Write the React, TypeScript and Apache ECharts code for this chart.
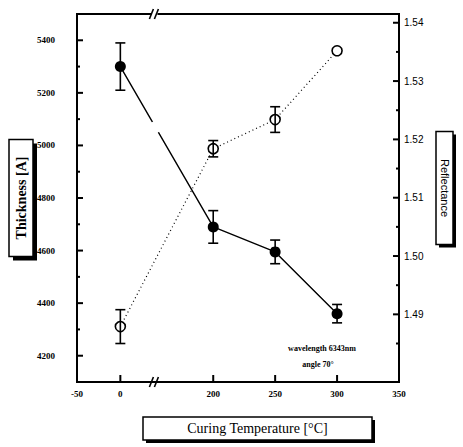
import React, { useEffect, useRef } from 'react';
import * as echarts from 'echarts';

// ---- data ----
const temperatures = [0, 200, 250, 300];
const thickness = [5300, 4690, 4595, 4360];
const thicknessErr = [90, 62, 45, 35];
const reflectance = [1.4879, 1.5184, 1.5234, 1.5352];
const reflectanceErr = [0.0029, 0.0014, 0.0022, 0];
const xTickTemps = [-50, 0, 200, 250, 300, 350];
const xTickMarks = [0, 200, 250, 300];
const thicknessLabels = [4200, 4400, 4600, 4800, 5000, 5200, 5400];
const thicknessTicks = [4200, 4300, 4400, 4500, 4600, 4700, 4800, 4900, 5000, 5100, 5200, 5300, 5400];
const reflectanceLabels = [1.49, 1.5, 1.51, 1.52, 1.53, 1.54];
const reflectanceTicks = [1.485, 1.49, 1.495, 1.5, 1.505, 1.51, 1.515, 1.52, 1.525, 1.53, 1.535, 1.54];

// broken temperature axis: temperature -> display units
const anchorTemps = [-50, 0, 200, 350];
const anchorDisp = [-35, 0, 75, 225];
const breakDispValue = 27.5;

function interp(v: number, from: number[], to: number[]) {
  for (let i = 0; i < from.length - 1; i++) {
    if (v <= from[i + 1] || i === from.length - 2) {
      const f = (v - from[i]) / (from[i + 1] - from[i]);
      return to[i] + f * (to[i + 1] - to[i]);
    }
  }
  return v;
}
const toDisp = (t: number) => interp(t, anchorTemps, anchorDisp);
const fromDisp = (d: number) => Math.round(interp(d, anchorDisp, anchorTemps));

const GRID = { left: 77, top: 14, width: 322, height: 368 };
const serif = '"Liberation Serif", "DejaVu Serif", serif';
const sans = '"Liberation Sans", Arial, sans-serif';

function errorBars(xs: number[], ys: number[], es: number[], yAxisIndex: number) {
  return {
    type: 'custom',
    xAxisIndex: 0,
    yAxisIndex,
    z: 5,
    silent: true,
    data: xs.map((t, i) => [toDisp(t), ys[i], es[i]]),
    renderItem: (_p: any, api: any) => {
      const x = api.value(0);
      const y = api.value(1);
      const e = api.value(2);
      if (!e) return { type: 'group', children: [] };
      const hi = api.coord([x, y + e]);
      const lo = api.coord([x, y - e]);
      const w = 5;
      const style = { stroke: '#000', lineWidth: 1.6 };
      return {
        type: 'group',
        children: [
          { type: 'line', shape: { x1: hi[0], y1: hi[1], x2: lo[0], y2: lo[1] }, style },
          { type: 'line', shape: { x1: hi[0] - w, y1: hi[1], x2: hi[0] + w, y2: hi[1] }, style },
          { type: 'line', shape: { x1: lo[0] - w, y1: lo[1], x2: lo[0] + w, y2: lo[1] }, style },
        ],
      };
    },
  };
}

function boxedLabel(cx: number, cy: number, w: number, h: number, sh: number, text: string, font: any, rotation: number) {
  return {
    type: 'group',
    children: [
      { type: 'rect', shape: { x: cx - w / 2 + sh, y: cy - h / 2 + sh, width: w, height: h }, style: { fill: '#000' } },
      { type: 'rect', shape: { x: cx - w / 2, y: cy - h / 2, width: w, height: h }, style: { fill: '#fff', stroke: '#000', lineWidth: 1.5 } },
      {
        type: 'text',
        x: cx,
        y: cy,
        rotation,
        style: { text, align: 'center', verticalAlign: 'middle', fill: '#000', ...font },
      },
    ],
  };
}

export default function App() {
  const ref = useRef<HTMLDivElement>(null);
  useEffect(() => {
    const chart = echarts.init(ref.current!, null, { renderer: 'svg' });
    const axisLine = { show: true, onZero: false, lineStyle: { color: '#000', width: 2 } };
    chart.setOption({
      animation: false,
      backgroundColor: '#fff',
      grid: { ...GRID, show: true, borderColor: '#000', borderWidth: 2, backgroundColor: 'transparent' },
      xAxis: {
        type: 'value',
        min: anchorDisp[0],
        max: anchorDisp[anchorDisp.length - 1],
        axisLine,
        splitLine: { show: false },
        axisTick: { show: false },
        axisLabel: {
          show: true,
          customValues: xTickTemps.map(toDisp),
          formatter: (v: number) => String(fromDisp(v)),
          color: '#000',
          fontFamily: serif,
          fontWeight: 'bold',
          fontSize: 9,
          margin: 7,
        },
      },
      yAxis: [
        {
          type: 'value',
          min: 4100,
          max: 5500,
          position: 'left',
          axisLine,
          splitLine: { show: false },
          axisTick: { show: false },
          axisLabel: {
            show: true,
            customValues: thicknessLabels,
            formatter: (v: number) => String(v),
            color: '#000',
            fontFamily: serif,
            fontWeight: 'bold',
            fontSize: 9,
            margin: 22,
          },
        },
        {
          type: 'value',
          min: 1.4784,
          max: 1.5415,
          position: 'right',
          axisLine,
          splitLine: { show: false },
          axisTick: { show: false },
          axisLabel: {
            show: true,
            customValues: reflectanceLabels,
            formatter: (v: number) => v.toFixed(2),
            color: '#000',
            fontFamily: sans,
            fontSize: 10,
            margin: 5,
          },
        },
      ],
      series: [
        {
          type: 'line',
          name: 'Thickness',
          yAxisIndex: 0,
          data: temperatures.map((t, i) => [toDisp(t), thickness[i]]),
          lineStyle: { color: '#000', width: 1.4, type: 'solid' },
          symbol: 'circle',
          symbolSize: 11,
          itemStyle: { color: '#000' },
          z: 3,
        },
        {
          type: 'line',
          name: 'Reflectance',
          yAxisIndex: 1,
          data: temperatures.map((t, i) => [toDisp(t), reflectance[i]]),
          lineStyle: { color: '#000', width: 1.2, type: [1, 3] },
          symbol: 'circle',
          symbolSize: 10,
          itemStyle: { color: '#fff', borderColor: '#000', borderWidth: 1.6 },
          z: 3,
        },
        errorBars(temperatures, thickness, thicknessErr, 0),
        errorBars(temperatures, reflectance, reflectanceErr, 1),
      ],
    });

    const left = GRID.left;
    const right = GRID.left + GRID.width;
    const top = GRID.top;
    const bottom = GRID.top + GRID.height;
    const tickStyle = { stroke: '#000', lineWidth: 2 };

    const ticks: any[] = [];
    xTickMarks.forEach((t) => {
      const px = Number(chart.convertToPixel({ xAxisIndex: 0 }, toDisp(t)));
      ticks.push({ type: 'line', z: 50, shape: { x1: px, y1: bottom, x2: px, y2: bottom - 7 }, style: tickStyle });
    });
    thicknessTicks.forEach((v) => {
      const py = Number(chart.convertToPixel({ yAxisIndex: 0 }, v));
      const major = thicknessLabels.includes(v);
      ticks.push({ type: 'line', z: 50, shape: { x1: left, y1: py, x2: left + (major ? 6 : 3), y2: py }, style: tickStyle });
    });
    reflectanceTicks.forEach((v) => {
      const py = Number(chart.convertToPixel({ yAxisIndex: 1 }, v));
      const major = reflectanceLabels.some((l) => Math.abs(l - v) < 1e-9);
      ticks.push({ type: 'line', z: 50, shape: { x1: right, y1: py, x2: right - (major ? 6 : 3), y2: py }, style: tickStyle });
    });

    const bx = Number(chart.convertToPixel({ xAxisIndex: 0 }, breakDispValue));
    const breakMark = (y: number) => ({
      type: 'group',
      z: 50,
      children: [
        { type: 'rect', shape: { x: bx - 3, y: y - 2, width: 6, height: 4 }, style: { fill: '#fff' } },
        { type: 'line', shape: { x1: bx - 5, y1: y + 5, x2: bx - 1, y2: y - 5 }, style: { stroke: '#000', lineWidth: 1.6 } },
        { type: 'line', shape: { x1: bx, y1: y + 5, x2: bx + 4, y2: y - 5 }, style: { stroke: '#000', lineWidth: 1.6 } },
      ],
    });
    // gap in the solid line at the axis break
    const p0 = chart.convertToPixel({ xAxisIndex: 0, yAxisIndex: 0 }, [toDisp(temperatures[0]), thickness[0]]) as number[];
    const p1 = chart.convertToPixel({ xAxisIndex: 0, yAxisIndex: 0 }, [toDisp(temperatures[1]), thickness[1]]) as number[];
    const yAt = (x: number) => p0[1] + ((x - p0[0]) / (p1[0] - p0[0])) * (p1[1] - p0[1]);
    const gx1 = bx - 2;
    const gx2 = bx + 4;

    chart.setOption({
      graphic: [
        { type: 'group', z: 50, children: ticks },
        breakMark(top),
        breakMark(bottom),
        { type: 'line', z: 10, shape: { x1: gx1, y1: yAt(gx1), x2: gx2, y2: yAt(gx2) }, style: { stroke: '#fff', lineWidth: 4 } },
        boxedLabel(21, 198, 24, 117, 4, 'Thickness [A]', { fontFamily: serif, fontWeight: 'bold', fontSize: 14 }, Math.PI / 2),
        boxedLabel(444.5, 188, 17, 113, 3, 'Reflectance', { fontFamily: sans, fontSize: 11 }, -Math.PI / 2),
        boxedLabel(257.5, 428.5, 229, 23, 3, 'Curing Temperature [°C]', { fontFamily: serif, fontSize: 14 }, 0),
        { type: 'text', x: 322, y: 348, style: { text: 'wavelength 6343nm', align: 'center', verticalAlign: 'middle', fill: '#000', fontFamily: serif, fontWeight: 'bold', fontSize: 8 } },
        { type: 'text', x: 318, y: 364, style: { text: 'angle 70°', align: 'center', verticalAlign: 'middle', fill: '#000', fontFamily: serif, fontWeight: 'bold', fontSize: 8 } },
      ],
    });
    return () => chart.dispose();
  }, []);
  return <div ref={ref} style={{ position: 'fixed', left: 0, top: 0, width: 463, height: 447 }} />;
}
